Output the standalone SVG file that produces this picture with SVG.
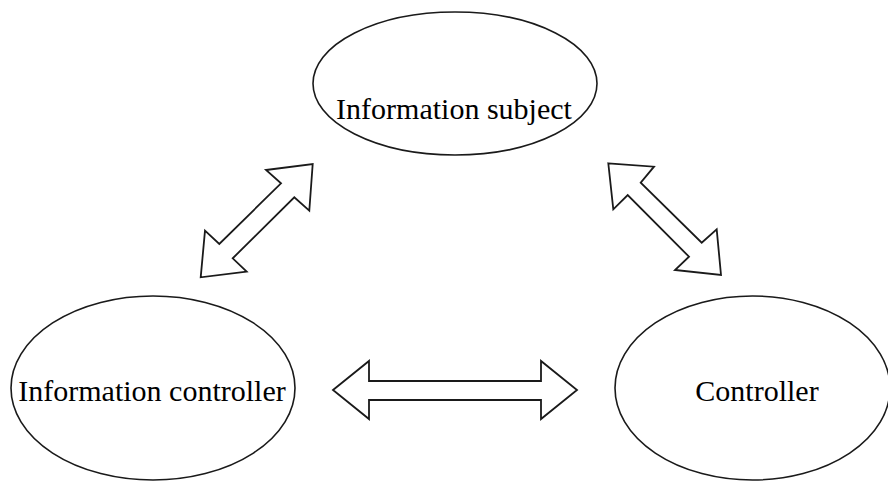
<svg xmlns="http://www.w3.org/2000/svg" width="888" height="482" viewBox="0 0 888 482">
<style>
.n{fill:#fff;stroke:#1a1a1a;stroke-width:1.6}
.a{fill:#fff;stroke:#1a1a1a;stroke-width:1.8;stroke-linejoin:miter}
.t{font-family:"Liberation Serif","Times New Roman",serif;font-size:30px;fill:#000;text-anchor:middle}
</style>
<rect width="888" height="482" fill="#fff"/>
<g id="connectors">
<polygon class="a" points="200.7,277.3 205,230.7 219.3,244 281,183.3 266,170 312.7,164 309.3,210.7 294.3,197.3 232.7,258.3 246.7,271.7"/>
<polygon class="a" points="608.3,163.3 654,166.7 640.7,182.7 701.7,242.7 716.7,229.3 721,275 675,270 689,256.7 627.7,195 613.3,209.3"/>
<polygon class="a" points="333,390 369,361 369,381 541,381 541,361 577,390 541,419 541,400 369,400 369,419"/>
</g>
<g id="subject">
<ellipse class="n" cx="455" cy="83.5" rx="142" ry="71.5"/>
<text class="t" x="454" y="119">Information subject</text>
</g>
<g id="infocontroller">
<ellipse class="n" cx="153" cy="388" rx="142" ry="92"/>
<text class="t" x="152" y="401">Information controller</text>
</g>
<g id="controller">
<ellipse class="n" cx="752.5" cy="388" rx="137.5" ry="92"/>
<text class="t" x="757" y="401">Controller</text>
</g>
</svg>
